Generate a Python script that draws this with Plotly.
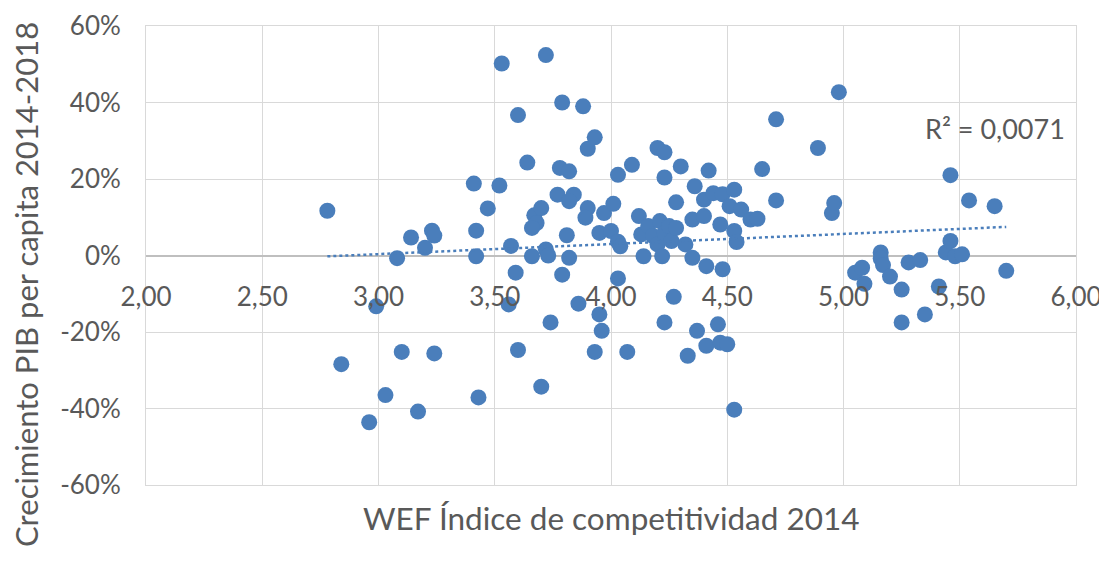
import numpy as np
import plotly.graph_objects as go

# WEF competitiveness index 2014 (x) vs GDP per capita growth 2014-2018 (y)
wef_index = [
    2.78, 2.84, 2.96, 2.99, 3.03, 3.08, 3.10, 3.14, 3.17, 3.20,
    3.23, 3.24, 3.24, 3.41, 3.42, 3.42, 3.43, 3.47, 3.52, 3.53,
    3.56, 3.57, 3.59, 3.60, 3.60, 3.64, 3.67, 3.70, 3.68, 3.66,
    3.66, 3.72, 3.73, 3.70, 3.72, 3.74, 3.77, 3.78, 3.79, 3.79,
    3.81, 3.82, 3.82, 3.84, 3.82, 3.86, 3.88, 3.90, 3.89, 3.90,
    3.93, 3.93, 3.95, 3.95, 3.96, 3.97, 4.00, 4.01, 4.03, 4.03,
    4.04, 4.03, 4.07, 4.09, 4.12, 4.13, 4.16, 4.18, 4.14, 4.20,
    4.20, 4.21, 4.22, 4.23, 4.23, 4.23, 4.23, 4.25, 4.26, 4.28,
    4.28, 4.27, 4.30, 4.32, 4.33, 4.35, 4.35, 4.36, 4.37, 4.40,
    4.40, 4.41, 4.41, 4.42, 4.44, 4.46, 4.47, 4.48, 4.48, 4.47,
    4.50, 4.51, 4.53, 4.53, 4.54, 4.53, 4.56, 4.60, 4.63, 4.65,
    4.71, 4.71, 4.89, 4.95, 4.96, 4.98, 5.05, 5.08, 5.09, 5.16,
    5.16, 5.17, 5.20, 5.25, 5.25, 5.28, 5.33, 5.35, 5.41, 5.44,
    5.46, 5.46, 5.48, 5.51, 5.54, 5.65, 5.70,
]
gdp_growth = [
    0.117, -0.284, -0.436, -0.133, -0.365, -0.007, -0.252, 0.047, -0.408, 0.020,
    0.065, 0.052, -0.256, 0.188, 0.065, -0.002, -0.371, 0.123, 0.183, 0.502,
    -0.128, 0.025, -0.045, 0.367, -0.247, 0.243, 0.105, 0.124, 0.085, 0.072,
    -0.002, 0.016, 0.000, -0.343, 0.524, -0.175, 0.159, 0.229, 0.400, -0.050,
    0.053, -0.006, 0.220, 0.159, 0.142, -0.126, 0.390, 0.124, 0.099, 0.279,
    0.309, -0.252, 0.059, -0.154, -0.197, 0.111, 0.064, 0.135, 0.211, 0.036,
    0.024, -0.060, -0.252, 0.237, 0.103, 0.055, 0.077, 0.051, -0.002, 0.281,
    0.029, 0.090, -0.002, 0.270, 0.204, 0.059, -0.175, 0.077, 0.038, 0.072,
    0.139, -0.108, 0.233, 0.029, -0.262, 0.094, -0.006, 0.181, -0.197, 0.146,
    0.103, -0.028, -0.236, 0.222, 0.163, -0.180, 0.081, 0.160, -0.036, -0.228,
    -0.232, 0.129, 0.172, 0.064, 0.035, -0.403, 0.120, 0.094, 0.096, 0.226,
    0.356, 0.144, 0.281, 0.111, 0.137, 0.427, -0.045, -0.032, -0.074, 0.008,
    -0.008, -0.025, -0.055, -0.089, -0.175, -0.018, -0.012, -0.154, -0.081, 0.008,
    0.038, 0.210, -0.002, 0.003, 0.144, 0.129, -0.040,
]

x_ticks = [2.0, 2.5, 3.0, 3.5, 4.0, 4.5, 5.0, 5.5, 6.0]
x_tick_labels = ["2,00", "2,50", "3,00", "3,50", "4,00", "4,50", "5,00", "5,50", "6,00"]
y_ticks = [-0.6, -0.4, -0.2, 0.0, 0.2, 0.4, 0.6]
y_tick_labels = ["-60%", "-40%", "-20%", "0%", "20%", "40%", "60%"]
r2_label = "R² = 0,0071"
x_title = "WEF Índice de competitividad 2014"
y_title = "Crecimiento PIB per capita 2014-2018"

BLUE = "#4A7EBB"
GRID = "#D9D9D9"
TXT = "#595959"
FONT = "Lato, 'Open Sans', sans-serif"
TICK_SIZE = 26

xa = np.array(wef_index)
ya = np.array(gdp_growth)
slope, intercept = np.polyfit(xa, ya, 1)
tx = np.array([xa.min(), xa.max()])
ty = slope * tx + intercept

fig = go.Figure()
fig.add_trace(go.Scatter(
    x=wef_index, y=gdp_growth, mode="markers",
    marker=dict(size=16, color=BLUE, line=dict(width=0)),
    showlegend=False, hoverinfo="x+y",
))
fig.add_trace(go.Scatter(
    x=tx, y=ty, mode="lines",
    line=dict(color=BLUE, width=2.5, dash="dot"),
    showlegend=False, hoverinfo="skip",
))
# empty trace so that the label-only x axis (x2, crossing at y = 0) is drawn
fig.add_trace(go.Scatter(
    x=[], y=[], xaxis="x2", yaxis="y", mode="markers",
    showlegend=False, hoverinfo="skip",
))

PLOT_TOP = 26  # page pixels (incl. 8px body margin)
PLOT_H = 485 - PLOT_TOP

fig.update_layout(
    width=1099, height=555,
    margin=dict(l=138, r=31, t=PLOT_TOP - 8, b=78, autoexpand=False),
    paper_bgcolor="white", plot_bgcolor="white",
    font=dict(family=FONT, color=TXT, size=20),
    xaxis=dict(
        range=[2, 6], tickvals=x_ticks, showticklabels=False,
        showgrid=True, gridcolor=GRID, gridwidth=1,
        zeroline=False, showline=True, linecolor=GRID, mirror=True,
        automargin=False, fixedrange=True,
    ),
    xaxis2=dict(
        overlaying="x", anchor="free", position=0.5, side="bottom",
        range=[2, 6], tickvals=x_ticks, ticktext=x_tick_labels,
        showgrid=False, zeroline=False, showline=False,
        ticks="", ticklabelstandoff=23, ticklabeloverflow="allow",
        tickfont=dict(family=FONT, color=TXT, size=TICK_SIZE),
        automargin=False, fixedrange=True,
    ),
    yaxis=dict(
        range=[-0.6, 0.6], tickvals=y_ticks, ticktext=y_tick_labels,
        showgrid=True, gridcolor=GRID, gridwidth=1,
        zeroline=True, zerolinecolor="#BFBFBF", zerolinewidth=1.5,
        showline=True, linecolor=GRID, mirror=True,
        ticks="", ticklabelstandoff=19, ticklabeloverflow="allow",
        tickfont=dict(family=FONT, color=TXT, size=TICK_SIZE),
        automargin=False, fixedrange=True,
    ),
    annotations=[
        dict(text=r2_label, xref="paper", yref="paper",
             x=(995 - 146) / 930, y=(485 - 128) / PLOT_H,
             xanchor="center", yanchor="middle", showarrow=False,
             font=dict(family=FONT, color=TXT, size=27)),
        dict(text=x_title, xref="paper", yref="paper",
             x=0.5, y=(485 - 518) / PLOT_H,
             xanchor="center", yanchor="middle", showarrow=False,
             font=dict(family=FONT, color=TXT, size=31.5)),
        dict(text=y_title, xref="paper", yref="paper",
             x=(26 - 146) / 930, y=(485 - 285) / PLOT_H,
             xanchor="center", yanchor="middle", showarrow=False,
             textangle=-90,
             font=dict(family=FONT, color=TXT, size=31)),
    ],
)

fig.write_html("out.html")
